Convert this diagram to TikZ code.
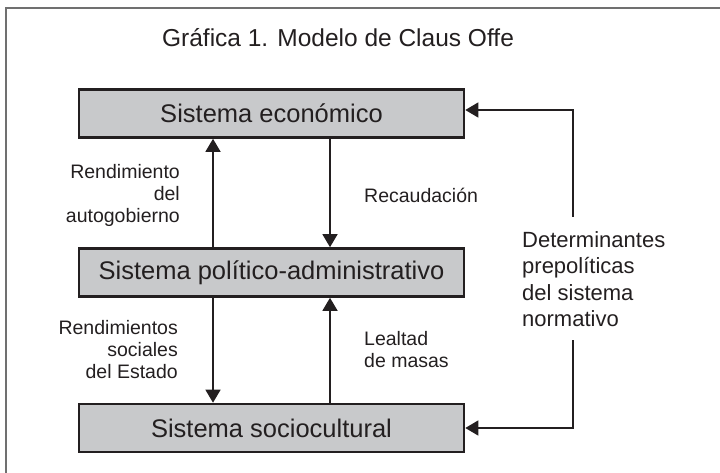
\documentclass[tikz,border=0pt]{standalone}
\usepackage{fontspec}
\setmainfont{Liberation Sans}
\usetikzlibrary{arrows.meta}
\definecolor{ink}{HTML}{231F20}
\definecolor{boxfill}{HTML}{C8C9CB}
\definecolor{framec}{HTML}{707070}
\begin{document}
\begin{tikzpicture}[x=1pt,y=-1pt,
  sysbox/.style={draw=ink,fill=boxfill,line width=2.6pt,minimum width=385pt,minimum height=48pt,inner sep=0pt,
    font=\fontsize{25.5}{30}\selectfont,text=ink},
  lbl/.style={font=\fontsize{19.5}{22}\selectfont,text=ink,inner sep=0pt},
  arr/.style={draw=ink,line width=1.4pt,-{Triangle[width=15pt,length=13pt]}},
  conn/.style={draw=ink,line width=1.4pt}]
\useasboundingbox (0,0) rectangle (720,473);
% frame
\draw[framec,line width=1.5pt] (6,473) -- (6,8) -- (720,8);
% title
\node[anchor=base,font=\fontsize{24.5}{28}\selectfont,text=ink,inner sep=0pt] (title) at (338,47) {Gráfica 1. Modelo de Claus Offe};
% boxes
\node[sysbox] (eco) at (271.5,113.5) {Sistema económico};
\node[sysbox] (pol) at (271.5,272.5) {Sistema político-administrativo};
\node[sysbox] (soc) at (271.5,428) {Sistema sociocultural};
% arrows between boxes
\draw[arr] (pol.north -| 213,0) -- (eco.south -| 213,0);
\draw[arr] (eco.south -| 330,0) -- (pol.north -| 330,0);
\draw[arr] (pol.south -| 213,0) -- (soc.north -| 213,0);
\draw[arr] (soc.north -| 330,0) -- (pol.south -| 330,0);
% labels
\node[lbl,anchor=east,align=right] (l1) at (180,195) {Rendimiento\\del\\autogobierno};
\node[lbl,anchor=west,align=left] (l2) at (364,195) {Recaudación};
\node[lbl,anchor=east,align=right] (l3) at (178,350) {Rendimientos\\sociales\\del Estado};
\node[lbl,anchor=west,align=left] (l4) at (364,350) {Lealtad\\de masas};
\node[anchor=west,align=left,font=\fontsize{22}{26.5}\selectfont,text=ink,inner sep=0pt] (det) at (522,279)
  {Determinantes\\prepolíticas\\del sistema\\normativo};
% right connectors
\coordinate (ctop) at (573,217);
\coordinate (cbot) at (573,340);
\draw[arr] (ctop) |- ([yshift=3.5pt]eco.east);
\draw[arr] (cbot) |- (soc.east);
\end{tikzpicture}
\end{document}
